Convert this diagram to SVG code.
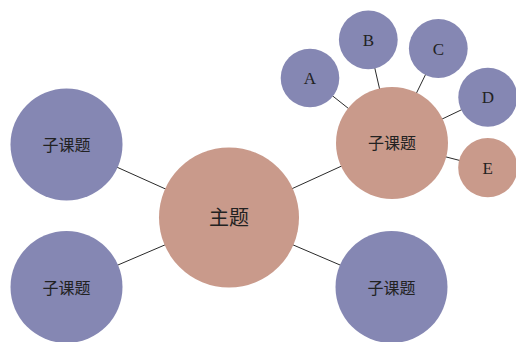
<svg xmlns="http://www.w3.org/2000/svg" width="516" height="342" viewBox="0 0 516 342">
<style>
.pink{fill:#C99A8B}
.blue{fill:#8587B3}
.conn line{stroke:#2a2a2a;stroke-width:1}
text{font-family:"Liberation Serif","Noto Sans CJK SC",serif;fill:#222;text-anchor:middle;dominant-baseline:central}
.big{font-size:20px}
.mid{font-size:16px}
.sm{font-size:17px}
</style>
<rect width="516" height="342" fill="#fff"/>
<g id="connectors" class="conn">
<line x1="229" y1="217.5" x2="66.5" y2="144.5"/>
<line x1="229" y1="217.5" x2="66.5" y2="287"/>
<line x1="229" y1="217.5" x2="391.5" y2="287"/>
<line x1="229" y1="217.5" x2="392" y2="143"/>
<line x1="392" y1="143" x2="310" y2="78"/>
<line x1="392" y1="143" x2="368.3" y2="39.8"/>
<line x1="392" y1="143" x2="438.3" y2="48.5"/>
<line x1="392" y1="143" x2="487.8" y2="97.2"/>
<line x1="392" y1="143" x2="487.8" y2="167.7"/>
</g>
<g id="main"><circle class="pink" cx="229" cy="217.5" r="70"/><text class="big" x="229" y="218">主题</text></g>
<g id="sub-tl"><circle class="blue" cx="66.5" cy="144.5" r="56"/><text class="mid" x="66.5" y="145">子课题</text></g>
<g id="sub-bl"><circle class="blue" cx="66.5" cy="287" r="56"/><text class="mid" x="66.5" y="288">子课题</text></g>
<g id="sub-br"><circle class="blue" cx="391.5" cy="287" r="56"/><text class="mid" x="391.5" y="288">子课题</text></g>
<g id="sub-tr"><circle class="pink" cx="392" cy="143" r="56"/><text class="mid" x="392" y="143">子课题</text></g>
<g id="leaf-a"><circle class="blue" cx="310" cy="78" r="29.3"/><text class="sm" x="310" y="78">A</text></g>
<g id="leaf-b"><circle class="blue" cx="368.3" cy="39.8" r="29.4"/><text class="sm" x="368.3" y="40">B</text></g>
<g id="leaf-c"><circle class="blue" cx="438.3" cy="48.5" r="29.4"/><text class="sm" x="438.3" y="49">C</text></g>
<g id="leaf-d"><circle class="blue" cx="487.8" cy="97.2" r="29.5"/><text class="sm" x="487.8" y="97.5">D</text></g>
<g id="leaf-e"><circle class="pink" cx="487.8" cy="167.7" r="29.6"/><text class="sm" x="487.8" y="168">E</text></g>
</svg>
